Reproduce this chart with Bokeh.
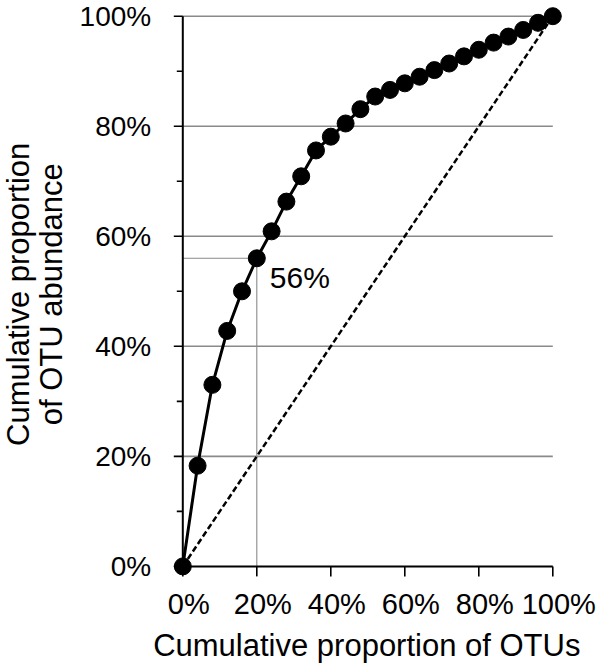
import math
from bokeh.plotting import figure
from bokeh.models import Range1d
from bokeh.core.properties import value
from bokeh.embed import file_html
from bokeh.resources import INLINE

# ---- data ----
otu_pct = [0, 4, 8, 12, 16, 20, 24, 28, 32, 36, 40, 44, 48, 52, 56, 60,
           64, 68, 72, 76, 80, 84, 88, 92, 96, 100]
abund_pct = [0, 18.3, 33.0, 42.8, 50.0, 56.0, 60.9, 66.3, 70.9, 75.6, 78.1,
             80.5, 83.1, 85.4, 86.6, 87.8, 89.0, 90.2, 91.4, 92.7, 93.9,
             95.2, 96.3, 97.5, 98.8, 100]
equal_line_x = [0, 1]
equal_line_y = [0, 1]
highlight_x = 0.20
highlight_y = 0.56
highlight_text = "56%"
x_ticks = [0, 0.2, 0.4, 0.6, 0.8, 1.0]
x_tick_labels = ["0%", "20%", "40%", "60%", "80%", "100%"]
y_ticks = [0, 0.2, 0.4, 0.6, 0.8, 1.0]
y_tick_labels = ["0%", "20%", "40%", "60%", "80%", "100%"]
y_minor_ticks = [0.1, 0.3, 0.5, 0.7, 0.9]
grid_y = [0.2, 0.4, 0.6, 0.8, 1.0]
x_title = "Cumulative proportion of OTUs"
y_title_lines = ["Cumulative proportion", "of OTU abundance"]

xs = [v / 100 for v in otu_pct]
ys = [v / 100 for v in abund_pct]

# ---- layout (pixels) ----
W, H = 600, 666
X0_PX, X1_PX = 182.3, 552.3     # screen x of data 0 and 1
Y0_PX, Y1_PX = 565.9, 15.7      # screen y of data 0 and 1
kx = X1_PX - X0_PX
ky = Y0_PX - Y1_PX
x_range = Range1d(-X0_PX / kx, (W - X0_PX) / kx)
y_range = Range1d((Y0_PX - H) / ky, Y0_PX / ky)

FONT = value("Liberation Sans")

p = figure(width=W, height=H, output_backend="svg", toolbar_location=None,
           x_range=x_range, y_range=y_range,
           x_axis_location=None, y_axis_location=None,
           min_border=0, min_border_left=0, min_border_right=0,
           min_border_top=0, min_border_bottom=0)
p.outline_line_color = None
p.grid.visible = False
p.background_fill_color = "white"
p.border_fill_color = "white"

# horizontal grid lines
p.segment(x0=[0] * len(grid_y), y0=grid_y, x1=[1] * len(grid_y), y1=grid_y,
          line_color="#8a8a8a", line_width=1.6)

# highlight reference lines
p.segment(x0=[0, highlight_x], y0=[highlight_y, 0],
          x1=[highlight_x, highlight_x], y1=[highlight_y, highlight_y],
          line_color="#8a8a8a", line_width=1.1)

# axis lines and ticks
p.segment(x0=[0, 0], y0=[0, 0], x1=[1, 0], y1=[0, 1],
          line_color="black", line_width=2)
p.segment(x0=x_ticks, y0=[0] * len(x_ticks), x1=x_ticks,
          y1=[-10 / ky] * len(x_ticks), line_color="black", line_width=1.6)
p.segment(x0=[0] * len(y_ticks), y0=y_ticks, x1=[-9 / kx] * len(y_ticks),
          y1=y_ticks, line_color="black", line_width=1.6)
p.segment(x0=[0] * len(y_minor_ticks), y0=y_minor_ticks,
          x1=[-6 / kx] * len(y_minor_ticks), y1=y_minor_ticks,
          line_color="black", line_width=1.6)

# 1:1 dashed line
p.line(equal_line_x, equal_line_y, line_color="black", line_width=2.5,
       line_dash="6 3")

# cumulative curve
p.line(xs, ys, line_color="black", line_width=3)
p.scatter(xs, ys, size=17, marker="circle", fill_color="black",
          line_color="black")

# tick labels
p.text(x=x_ticks, y=[0] * len(x_ticks), text=x_tick_labels,
       x_offset=6, y_offset=38, text_font=FONT, text_font_size="29px",
       text_color="black", text_align="center", text_baseline="alphabetic")
p.text(x=[0] * len(y_ticks), y=y_ticks, text=y_tick_labels,
       x_offset=-31.6, y_offset=0, text_font=FONT, text_font_size="28px",
       text_color="black", text_align="right", text_baseline="alphabetic")

# annotation text
p.text(x=[highlight_x], y=[highlight_y], text=[highlight_text],
       x_offset=13, y_offset=19.5, text_font=FONT, text_font_size="30px",
       text_color="black", text_align="left", text_baseline="alphabetic")

# axis titles
p.text(x=[0.5], y=[0], text=[x_title], x_offset=-1, y_offset=79,
       text_font=FONT, text_font_size="31px", text_color="black",
       text_align="center", text_baseline="alphabetic")
p.text(x=[0, 0], y=[0.5, 0.5], text=y_title_lines,
       x_offset=[-164.5, -131.5], y_offset=3, angle=math.pi / 2,
       text_font=FONT, text_font_size="31px", text_color="black",
       text_align="center", text_baseline="alphabetic")

open("out.html", "w").write(file_html(p, INLINE))
